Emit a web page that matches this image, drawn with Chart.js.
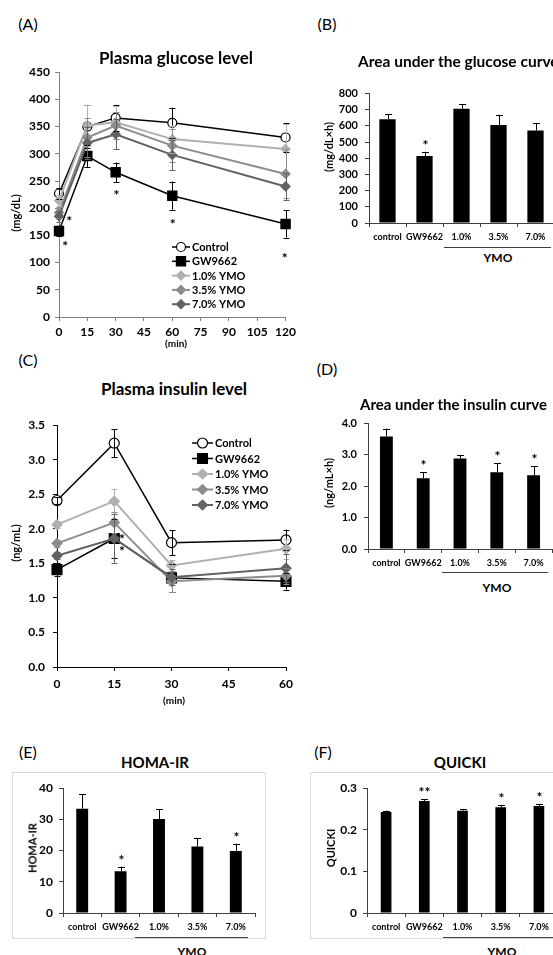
<!DOCTYPE html>
<html>
<head>
<meta charset="utf-8">
<script src="https://cdn.jsdelivr.net/npm/chart.js@4"></script>
<style>
  body { margin: 0; width: 553px; height: 955px; overflow: hidden; position: relative; background: #fff; font-family: Lato, sans-serif; color: #000; }
  .t { position: absolute; white-space: nowrap; line-height: 1; font-weight: bold; transform: translate(-50%, -50%); }
  .l { position: absolute; white-space: nowrap; line-height: 1; font-weight: bold; transform: translateY(-50%); }
  .v { position: absolute; white-space: nowrap; line-height: 1; font-weight: bold; transform: translate(-50%, -50%) rotate(-90deg); }
  .p { position: absolute; white-space: nowrap; line-height: 1; font-size: 16px; transform: translate(-50%, -50%); }
  canvas { position: absolute; }
  .box { position: absolute; border: 1px solid #d9d9d9; box-sizing: border-box; }
  .ul { position: absolute; height: 0; border-top: 1px solid #404040; }
</style>
</head>
<body>
<div class="box" style="left:12px;top:772px;width:254px;height:167px"></div>
<div class="box" style="left:310px;top:772px;width:250px;height:167px"></div>

<canvas id="chartA" width="300" height="290" style="left:0;top:60px"></canvas>
<canvas id="chartB" width="260" height="165" style="left:300px;top:80px"></canvas>
<canvas id="chartC" width="300" height="285" style="left:0;top:410px"></canvas>
<canvas id="chartD" width="260" height="160" style="left:300px;top:410px"></canvas>
<canvas id="chartE" width="270" height="162" style="left:0;top:775px"></canvas>
<canvas id="chartF" width="260" height="162" style="left:300px;top:775px"></canvas>

<div class="p" style="left:28px;top:24px">(A)</div>
<div class="p" style="left:327px;top:24px">(B)</div>
<div class="p" style="left:28px;top:360px">(C)</div>
<div class="p" style="left:327px;top:369px">(D)</div>
<div class="p" style="left:28px;top:752px">(E)</div>
<div class="p" style="left:323px;top:752px">(F)</div>

<div class="t" style="left:176px;top:57px;font-size:17px">Plasma glucose level</div>
<div class="l" style="left:358px;top:62px;font-size:15.5px">Area under the glucose curve</div>
<div class="t" style="left:174px;top:388px;font-size:17px">Plasma insulin level</div>
<div class="l" style="left:360px;top:404px;font-size:15px">Area under the insulin curve</div>
<div class="t" style="left:155px;top:762px;font-size:15px">HOMA-IR</div>
<div class="t" style="left:460px;top:762px;font-size:15px">QUICKI</div>

<div class="v" style="left:15px;top:213px;font-size:11px">(mg/dL)</div>
<div class="v" style="left:328px;top:147px;font-size:11px">(mg/dL×h)</div>
<div class="v" style="left:15px;top:543px;font-size:11px">(ng/mL)</div>
<div class="v" style="left:328px;top:483px;font-size:11px">(ng/mL×h)</div>
<div class="v" style="left:32px;top:848px;font-size:11px">HOMA-IR</div>
<div class="v" style="left:330px;top:848px;font-size:11px">QUICKI</div>

<div class="t" style="left:176px;top:343px;font-size:10px">(min)</div>
<div class="t" style="left:174px;top:700px;font-size:10px">(min)</div>

<div class="ul" style="left:444px;top:247px;width:107px"></div>
<div class="t" style="left:498px;top:258px;font-size:12px">YMO</div>
<div class="ul" style="left:442px;top:572px;width:106px"></div>
<div class="t" style="left:497px;top:588px;font-size:12px">YMO</div>
<div class="ul" style="left:135px;top:937px;width:113px"></div>
<div class="t" style="left:192px;top:952px;font-size:12px">YMO</div>
<div class="ul" style="left:443px;top:937px;width:110px"></div>
<div class="t" style="left:502px;top:952px;font-size:12px">YMO</div>

<script>
// ---- data ----
const groupNames = ['Control', 'GW9662', '1.0% YMO', '3.5% YMO', '7.0% YMO'];
const barLabels = ['control', 'GW9662', '1.0%', '3.5%', '7.0%'];

const glucoseTimes = [0, 15, 30, 60, 120];
const glucoseControl = [227, 350, 366, 357, 330];
const glucoseGW = [158, 296, 266, 223, 171];
const glucoseYmo10 = [214, 352, 358, 327, 309];
const glucoseYmo35 = [192, 330, 352, 315, 263];
const glucoseYmo70 = [185, 320, 336, 298, 240];
const glucoseErrControl = [10, 40, 24, 28, 27];
const glucoseErrGW = [10, 20, 18, 26, 25];
const glucoseErrYmo10 = [10, 38, 30, 25, 45];
const glucoseErrYmo35 = [10, 35, 25, 30, 45];
const glucoseErrYmo70 = [10, 30, 28, 28, 25];
const glucoseStars = [{ x: 5.4, y: 178 }, { x: 3.3, y: 132 }, { x: 30.4, y: 226 }, { x: 60.2, y: 173 }, { x: 119.5, y: 110 }];
const glucoseTicksY = [0, 50, 100, 150, 200, 250, 300, 350, 400, 450];

const insulinTimes = [0, 15, 30, 60];
const insulinControl = [2.41, 3.24, 1.80, 1.84];
const insulinGW = [1.41, 1.86, 1.29, 1.24];
const insulinYmo10 = [2.06, 2.40, 1.47, 1.71];
const insulinYmo35 = [1.79, 2.09, 1.24, 1.32];
const insulinYmo70 = [1.61, 1.86, 1.30, 1.43];
const insulinErrControl = [0.05, 0.2, 0.18, 0.15];
const insulinErrGW = [0.1, 0.28, 0.2, 0.12];
const insulinErrYmo10 = [0.05, 0.18, 0.08, 0.15];
const insulinErrYmo35 = [0.05, 0.15, 0.15, 0.12];
const insulinErrYmo70 = [0.05, 0.35, 0.12, 0.2];
const insulinStars = [{ x: 17, y: 1.87 }, { x: 17, y: 1.70 }];

const aucGlucose = [642, 414, 707, 606, 572];
const aucGlucoseErr = [30, 26, 27, 63, 46];
const aucGlucoseStars = ['', '*', '', '', ''];

const aucInsulin = [3.59, 2.26, 2.89, 2.45, 2.35];
const aucInsulinErr = [0.25, 0.19, 0.11, 0.29, 0.29];
const aucInsulinStars = ['', '*', '', '*', '*'];

const homaIR = [33.4, 13.4, 30.1, 21.3, 19.9];
const homaIRErr = [4.6, 1.5, 3.2, 2.7, 2.3];
const homaIRStars = ['', '*', '', '', '*'];

const quicki = [0.243, 0.269, 0.246, 0.254, 0.257];
const quickiErr = [0.003, 0.004, 0.003, 0.005, 0.004];
const quickiStars = ['', '**', '', '*', '*'];
const quickiTicks = ['0', '0.1', '0.2', '0.3'];

// ---- styles ----
const FONT = 'Lato, sans-serif';
const grayLight = '#b0b0b0';
const grayMid = '#8c8c8c';
const grayDark = '#626262';
const STAR_FONT = 'bold 14px ' + FONT;

function drawMarker(ctx, style, x, y, r, fill, stroke, lw) {
  ctx.beginPath();
  if (style === 'circle') {
    ctx.arc(x, y, r, 0, Math.PI * 2);
  } else if (style === 'rect') {
    const s = r * Math.SQRT1_2;
    ctx.rect(x - s, y - s, 2 * s, 2 * s);
  } else {
    ctx.moveTo(x - r, y); ctx.lineTo(x, y - r); ctx.lineTo(x + r, y); ctx.lineTo(x, y + r); ctx.closePath();
  }
  ctx.fillStyle = fill;
  ctx.fill();
  ctx.lineWidth = lw;
  ctx.strokeStyle = stroke;
  ctx.stroke();
}

// error bars, asterisks and legend
const extras = {
  id: 'extras',
  afterDatasetsDraw(chart, args, opts) {
    const { ctx } = chart;
    const xs = chart.scales.x;
    const ys = chart.scales.y;
    ctx.save();
    chart.data.datasets.forEach((ds, i) => {
      if (!ds.errors) return;
      const meta = chart.getDatasetMeta(i);
      ctx.strokeStyle = ds.errorColor || ds.borderColor;
      ctx.lineWidth = 1;
      meta.data.forEach((el, j) => {
        const raw = ds.data[j];
        const val = typeof raw === 'object' ? raw.y : raw;
        const err = ds.errors[j];
        const px = Math.round(el.x) + 0.5;
        const top = ys.getPixelForValue(val + err);
        const bot = opts.upOnly ? ys.getPixelForValue(val) : ys.getPixelForValue(val - err);
        const cap = opts.cap || 3;
        ctx.beginPath();
        ctx.moveTo(px, top); ctx.lineTo(px, bot);
        ctx.moveTo(px - cap, Math.round(top) + 0.5); ctx.lineTo(px + cap, Math.round(top) + 0.5);
        if (!opts.upOnly) { ctx.moveTo(px - cap, Math.round(bot) + 0.5); ctx.lineTo(px + cap, Math.round(bot) + 0.5); }
        ctx.stroke();
        if (ds.stars && ds.stars[j]) {
          ctx.fillStyle = '#000';
          ctx.font = STAR_FONT;
          ctx.textAlign = 'center';
          ctx.textBaseline = 'alphabetic';
          ctx.fillText(ds.stars[j], px, top - 8 + 6);
        }
      });
    });
    if (opts.stars) {
      ctx.fillStyle = '#000';
      ctx.font = STAR_FONT;
      ctx.textAlign = 'center';
      ctx.textBaseline = 'alphabetic';
      opts.stars.forEach((s) => {
        ctx.fillText('*', xs.getPixelForValue(s.x), ys.getPixelForValue(s.y) + 6);
      });
    }
    if (opts.legend) {
      const lg = opts.legend;
      ctx.font = 'bold 11px ' + FONT;
      ctx.textAlign = 'left';
      ctx.textBaseline = 'middle';
      chart.data.datasets.forEach((ds, i) => {
        const y = lg.y + i * lg.dy;
        ctx.beginPath();
        ctx.strokeStyle = ds.borderColor;
        ctx.lineWidth = ds.borderWidth;
        ctx.moveTo(lg.x, y); ctx.lineTo(lg.x + lg.len, y);
        ctx.stroke();
        drawMarker(ctx, ds.pointStyle, lg.x + lg.len / 2, y, ds.pointRadius, ds.pointBackgroundColor, ds.pointBorderColor, ds.pointBorderWidth);
        ctx.fillStyle = '#000';
        ctx.fillText(ds.label, lg.x + lg.len + 2, y + 0.5);
      });
    }
    ctx.restore();
  },
};

function lineSet(label, times, vals, errs, color, style, radius, fill, width, order) {
  return {
    label,
    data: times.map((t, i) => ({ x: t, y: vals[i] })),
    errors: errs,
    borderColor: color,
    backgroundColor: fill,
    borderWidth: width,
    pointStyle: style,
    pointRadius: radius,
    pointBackgroundColor: fill,
    pointBorderColor: color,
    pointBorderWidth: 1.2,
    clip: false,
    order,
  };
}

function axisOpts(cfg) {
  const ticks = {
    stepSize: cfg.step,
    color: '#000',
    font: { family: FONT, size: cfg.fontSize, weight: 'bold' },
    padding: cfg.pad,
    maxRotation: 0,
    autoSkip: false,
  };
  if (cfg.cb) ticks.callback = cfg.cb;
  return {
    type: cfg.type,
    min: cfg.min,
    max: cfg.max,
    offset: cfg.offset,
    ticks,
    grid: { drawOnChartArea: false, tickLength: 4, color: cfg.color, offset: cfg.gridOffset },
    border: { color: cfg.color, width: 1 },
    afterFit: cfg.fit,
  };
}

function makeChart(id, type, datasets, labels, xCfg, yCfg, padding, extrasOpts) {
  return new Chart(document.getElementById(id), {
    type,
    data: { labels, datasets },
    options: {
      responsive: false,
      animation: false,
      devicePixelRatio: 1,
      events: [],
      layout: { padding },
      plugins: { legend: { display: false }, tooltip: { enabled: false }, extras: extrasOpts },
      scales: { x: axisOpts(xCfg), y: axisOpts(yCfg) },
    },
    plugins: [extras],
  });
}

function barSet(vals, errs, stars, pct) {
  return [{
    data: vals,
    errors: errs,
    stars,
    backgroundColor: '#000',
    borderColor: '#000',
    borderWidth: 0,
    errorColor: '#000',
    barPercentage: pct,
    categoryPercentage: 1,
  }];
}

const barCatLabel = (v, i) => barLabels[i];

// (A) plasma glucose
const axisA = '#7f7f7f';
makeChart('chartA', 'line', [
  lineSet(groupNames[0], glucoseTimes, glucoseControl, glucoseErrControl, '#000', 'circle', 4.5, '#fff', 1.5, 5),
  lineSet(groupNames[1], glucoseTimes, glucoseGW, glucoseErrGW, '#000', 'rect', 6.5, '#000', 1.5, 4),
  lineSet(groupNames[2], glucoseTimes, glucoseYmo10, glucoseErrYmo10, grayLight, 'rectRot', 4.5, grayLight, 2, 3),
  lineSet(groupNames[3], glucoseTimes, glucoseYmo35, glucoseErrYmo35, grayMid, 'rectRot', 4.5, grayMid, 2, 2),
  lineSet(groupNames[4], glucoseTimes, glucoseYmo70, glucoseErrYmo70, grayDark, 'rectRot', 4.5, grayDark, 2, 1),
], undefined,
{ type: 'linear', min: 0, max: 120, step: 15, fontSize: 12, pad: 4, color: axisA, fit: (s) => { s.height = 33; } },
{ type: 'linear', min: 0, max: 450, step: 50, fontSize: 12, pad: 5, color: axisA, cb: (v, i) => String(glucoseTicksY[i]), fit: (s) => { s.width = 59; } },
{ top: 12, right: 13, left: 0, bottom: 0 },
{ cap: 3, stars: glucoseStars, legend: { x: 172, y: 187, dy: 14.3, len: 18 } });

// (B) AUC glucose
makeChart('chartB', 'bar', barSet(aucGlucose, aucGlucoseErr, aucGlucoseStars, 0.44), barLabels,
{ type: 'category', offset: true, gridOffset: true, fontSize: 9, pad: 5, color: '#404040', cb: barCatLabel, fit: (s) => { s.height = 22; } },
{ type: 'linear', min: 0, max: 800, step: 100, fontSize: 11, pad: 7, color: '#404040', fit: (s) => { s.width = 69; } },
{ top: 11, right: 6, left: 0, bottom: 0 },
{ cap: 3.5, upOnly: true });

// (C) plasma insulin
makeChart('chartC', 'line', [
  lineSet(groupNames[0], insulinTimes, insulinControl, insulinErrControl, '#000', 'circle', 5, '#fff', 1.5, 5),
  lineSet(groupNames[1], insulinTimes, insulinGW, insulinErrGW, '#000', 'rect', 7, '#000', 1.5, 4),
  lineSet(groupNames[2], insulinTimes, insulinYmo10, insulinErrYmo10, grayLight, 'rectRot', 5, grayLight, 2, 3),
  lineSet(groupNames[3], insulinTimes, insulinYmo35, insulinErrYmo35, grayMid, 'rectRot', 5, grayMid, 2, 2),
  lineSet(groupNames[4], insulinTimes, insulinYmo70, insulinErrYmo70, grayDark, 'rectRot', 5, grayDark, 2, 1),
], undefined,
{ type: 'linear', min: 0, max: 60, step: 15, fontSize: 12, pad: 6, color: '#000', fit: (s) => { s.height = 28; } },
{ type: 'linear', min: 0, max: 3.5, step: 0.5, fontSize: 12, pad: 8, color: '#000', cb: (v) => v.toFixed(1), fit: (s) => { s.width = 57; } },
{ top: 12, right: 14, left: 0, bottom: 0 },
{ cap: 3, stars: insulinStars, legend: { x: 192, y: 33, dy: 15.5, len: 21 } });

// (D) AUC insulin
makeChart('chartD', 'bar', barSet(aucInsulin, aucInsulinErr, aucInsulinStars, 0.35), barLabels,
{ type: 'category', offset: true, gridOffset: true, fontSize: 9, pad: 5, color: '#404040', cb: barCatLabel, fit: (s) => { s.height = 21; } },
{ type: 'linear', min: 0, max: 4, step: 1, fontSize: 11, pad: 7, color: '#404040', cb: (v) => v.toFixed(1), fit: (s) => { s.width = 68; } },
{ top: 10, right: 8, left: 0, bottom: 0 },
{ cap: 3.5, upOnly: true });

// (E) HOMA-IR
makeChart('chartE', 'bar', barSet(homaIR, homaIRErr, homaIRStars, 0.31), barLabels,
{ type: 'category', offset: true, gridOffset: true, fontSize: 9, pad: 5, color: '#404040', cb: barCatLabel, fit: (s) => { s.height = 24; } },
{ type: 'linear', min: 0, max: 40, step: 10, fontSize: 12, pad: 6, color: '#404040', fit: (s) => { s.width = 63; } },
{ top: 9, right: 15, left: 0, bottom: 0 },
{ cap: 3.5, upOnly: true });

// (F) QUICKI
makeChart('chartF', 'bar', barSet(quicki, quickiErr, quickiStars, 0.28), barLabels,
{ type: 'category', offset: true, gridOffset: true, fontSize: 9, pad: 5, color: '#404040', cb: barCatLabel, fit: (s) => { s.height = 24; } },
{ type: 'linear', min: 0, max: 0.3, step: 0.1, fontSize: 12, pad: 6, color: '#404040', cb: (v, i) => quickiTicks[i], fit: (s) => { s.width = 67; } },
{ top: 9, right: 2, left: 0, bottom: 0 },
{ cap: 3.5, upOnly: true });
</script>
</body>
</html>
